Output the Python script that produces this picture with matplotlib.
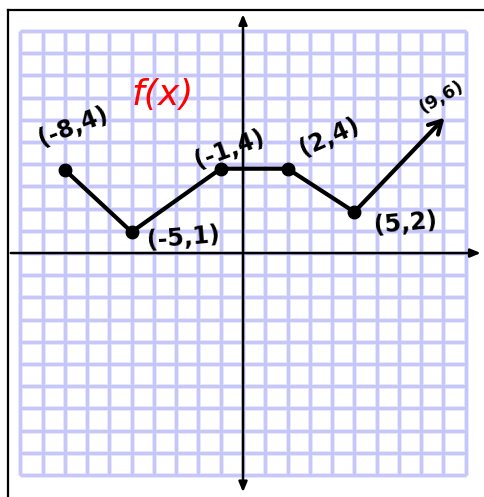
import matplotlib.pyplot as plt

# points of f(x) as drawn (labels give the intended values)
px = [-8, -5, -1, 2, 5]
py = [3.75, 0.95, 3.8, 3.8, 1.85]
arrow_tip = (9.05, 6.1)
labels = ['(-8,4)', '(-5,1)', '(-1,4)', '(2,4)', '(5,2)']
label_offsets = [(6, 31), (37, -4), (6, 14), (30, 23), (37, -8)]
label_rot = [21, 5, 20, 24, 5]
tip_label = '(9,6)'
grid_vals = list(range(-10, 11))

fig = plt.figure(figsize=(4.84, 4.97), dpi=100)
ax = fig.add_axes([0, 0, 1, 1])
ax.set_xlim(-10.91, 10.82)
ax.set_ylim(-10.99, 11.4)
ax.axis('off')

# graph paper
for v in grid_vals:
    ax.plot([v, v], [-10, 10], color='#e6e6fc', lw=3.6, zorder=1, solid_capstyle='butt')
    ax.plot([-10, 10], [v, v], color='#e6e6fc', lw=3.6, zorder=1, solid_capstyle='butt')
for v in grid_vals:
    ax.plot([v, v], [-10, 10], color='#c6c6fa', lw=2.1, zorder=2, solid_capstyle='butt')
    ax.plot([-10, 10], [v, v], color='#c6c6fa', lw=2.1, zorder=2, solid_capstyle='butt')

# frame on top and left
ax.plot([0.0165, 1.0], [0.98, 0.98], color='black', lw=1.6, transform=ax.transAxes, zorder=3)
ax.plot([0.0165, 0.0165], [0.0, 0.98], color='black', lw=1.6, transform=ax.transAxes, zorder=3)

# axes with arrows
ax.annotate('', xy=(0.999, 0), xycoords=('axes fraction', 'data'),
            xytext=(0.0165, 0), textcoords=('axes fraction', 'data'),
            arrowprops=dict(arrowstyle='-|>,head_length=0.6,head_width=0.25', color='black', lw=1.8), zorder=4)
ax.annotate('', xy=(0, 0.977), xycoords=('data', 'axes fraction'),
            xytext=(0, 0.004), textcoords=('data', 'axes fraction'),
            arrowprops=dict(arrowstyle='<|-|>,head_length=0.6,head_width=0.25', color='black', lw=1.8), zorder=4)

# the function
ax.plot(px, py, color='black', lw=3.0, marker='o', markersize=9, zorder=5)
ax.annotate('', xy=arrow_tip, xytext=(px[-1], py[-1]),
            arrowprops=dict(arrowstyle='->,head_length=0.9,head_width=0.5', color='black', lw=3.0,
                            shrinkA=0, shrinkB=0), zorder=5)

for (x, y), lab, off, rot in zip(zip(px, py), labels, label_offsets, label_rot):
    ax.annotate(lab, xy=(x, y), xytext=off, textcoords='offset points', ha='center', va='center',
                fontsize=17, fontweight='heavy', rotation=rot, color='black', zorder=6)
ax.annotate(tip_label, xy=arrow_tip, xytext=(-2, 15), textcoords='offset points', ha='center', va='center',
            fontsize=13, fontweight='heavy', rotation=30, color='black', zorder=6)

ax.text(-3.6, 7.1, 'f(x)', color='red', fontsize=26, fontstyle='italic', ha='center', va='center', zorder=6)

fig.savefig('out.png', dpi=100)
